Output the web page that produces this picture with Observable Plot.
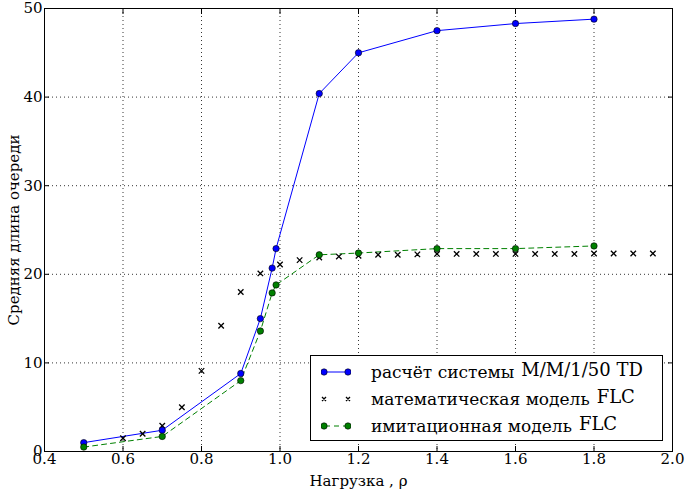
<!DOCTYPE html>
<html>
<head>
<meta charset="utf-8">
<script src="https://cdn.jsdelivr.net/npm/d3@7"></script>
<script src="https://cdn.jsdelivr.net/npm/@observablehq/plot@0.6"></script>
<style>
  body { margin: 0; background: #fff; }
  #wrap { position: relative; width: 686px; height: 489px; font-family: 'DejaVu Serif', serif; }
  #wrap svg text { font-family: 'DejaVu Serif', serif; }
  #legend { position: absolute; left: 310px; top: 355px; width: 351px; height: 84px; border: 1px solid #000; background: #fff; }
  .row { position: absolute; left: 0; height: 24px; display: flex; align-items: center; white-space: nowrap; }
  .row svg { margin-left: 10px; margin-right: 20px; }
  .ru { font-size: 17px; font-family: 'DejaVu Serif', serif; }
  .la { font-size: 18px; font-family: 'DejaVu Serif', serif; position: relative; top: -3px; margin-left: 7px; }
</style>
</head>
<body>
<div id="wrap"></div>
<script>
// Data
const xTD = [0.5, 0.7, 0.9, 0.95, 0.98, 0.99, 1.1, 1.2, 1.4, 1.6, 1.8];
const yTD = [1.0, 2.4, 8.8, 15.0, 20.7, 22.9, 40.4, 45.0, 47.5, 48.3, 48.8];

const xMath = [0.6, 0.65, 0.7, 0.75, 0.8, 0.85, 0.9, 0.95, 1.0, 1.05, 1.1, 1.15, 1.2, 1.25, 1.3, 1.35, 1.4, 1.45, 1.5, 1.55, 1.6, 1.65, 1.7, 1.75, 1.8, 1.85, 1.9, 1.95];
const yMath = [1.5, 2.0, 2.9, 5.0, 9.1, 14.2, 18.0, 20.1, 21.1, 21.6, 21.9, 22.0, 22.1, 22.2, 22.2, 22.25, 22.3, 22.3, 22.3, 22.3, 22.3, 22.3, 22.3, 22.3, 22.35, 22.35, 22.35, 22.35];

const xSim = [0.5, 0.7, 0.9, 0.95, 0.98, 0.99, 1.1, 1.2, 1.4, 1.6, 1.8];
const ySim = [0.5, 1.7, 8.0, 13.6, 17.9, 18.8, 22.2, 22.4, 22.9, 22.9, 23.2];

const xTicks = [0.4, 0.6, 0.8, 1.0, 1.2, 1.4, 1.6, 1.8, 2.0];
const yTicks = [0, 10, 20, 30, 40, 50];

const legendLabels = [
  ["расчёт системы", "M/M/1/50 TD"],
  ["математическая модель", "FLC"],
  ["имитационная модель", "FLC"]
];

const td = xTD.map((x, i) => ({x, y: yTD[i]}));
const mm = xMath.map((x, i) => ({x, y: yMath[i]}));
const sim = xSim.map((x, i) => ({x, y: ySim[i]}));

const blue = "#0000ff", green = "#008000";
const serif = "'DejaVu Serif', serif";

const chart = Plot.plot({
  width: 686,
  height: 489,
  marginLeft: 44,
  marginRight: 14,
  marginTop: 8,
  marginBottom: 38,
  style: {fontFamily: serif, fontSize: "15px", color: "#000", background: "#fff"},
  x: {domain: [0.4, 2.0]},
  y: {domain: [0, 50]},
  marks: [
    Plot.gridX(xTicks, {stroke: "#000", strokeOpacity: 1, strokeDasharray: "1,3", strokeWidth: 0.8}),
    Plot.gridY(yTicks, {stroke: "#000", strokeOpacity: 1, strokeDasharray: "1,3", strokeWidth: 0.8}),
    Plot.axisX(xTicks, {anchor: "bottom", tickSize: -5, tickPadding: 7, tickFormat: d3.format(".1f"), label: "Нагрузка , ρ", labelAnchor: "center", labelArrow: "none", labelOffset: 34, fontSize: 15}),
    Plot.axisX(xTicks, {anchor: "top", tickSize: -5, tickFormat: () => "", label: null}),
    Plot.axisY(yTicks, {anchor: "left", tickSize: -5, tickPadding: 7, label: "Средняя длина очереди", labelAnchor: "center", labelArrow: "none", labelOffset: 36, fontSize: 15}),
    Plot.axisY(yTicks, {anchor: "right", tickSize: -5, tickFormat: () => "", label: null}),
    Plot.line(td, {x: "x", y: "y", stroke: blue, strokeWidth: 1}),
    Plot.line(sim, {x: "x", y: "y", stroke: green, strokeWidth: 1, strokeDasharray: "5,4"}),
    Plot.dot(mm, {x: "x", y: "y", symbol: "times", stroke: "#000", strokeWidth: 1.3, r: 2.6}),
    Plot.dot(td, {x: "x", y: "y", fill: blue, stroke: "#000", strokeWidth: 0.6, r: 3.2}),
    Plot.dot(sim, {x: "x", y: "y", fill: green, stroke: "#000", strokeWidth: 0.6, r: 3.2}),
    Plot.frame({stroke: "#000", strokeWidth: 1})
  ]
});

const wrap = document.getElementById("wrap");
wrap.appendChild(chart);

// Legend overlay
const legend = document.createElement("div");
legend.id = "legend";
const samples = [
  `<svg width="30" height="10"><line x1="2" y1="5" x2="28" y2="5" stroke="${blue}" stroke-width="1"/><circle cx="3" cy="5" r="3.2" fill="${blue}" stroke="#000" stroke-width="0.6"/><circle cx="27" cy="5" r="3.2" fill="${blue}" stroke="#000" stroke-width="0.6"/></svg>`,
  `<svg width="30" height="10"><path d="M1,3L5,7M1,7L5,3M25,3L29,7M25,7L29,3" stroke="#000" stroke-width="1.3" fill="none"/></svg>`,
  `<svg width="30" height="10"><line x1="2" y1="5" x2="28" y2="5" stroke="${green}" stroke-width="1" stroke-dasharray="5,4" stroke-dashoffset="-2"/><circle cx="3" cy="5" r="3.2" fill="${green}" stroke="#000" stroke-width="0.6"/><circle cx="27" cy="5" r="3.2" fill="${green}" stroke="#000" stroke-width="0.6"/></svg>`
];
legendLabels.forEach((lab, i) => {
  const row = document.createElement("div");
  row.className = "row";
  row.style.top = (4 + i * 27) + "px";
  row.innerHTML = samples[i] + `<span class="ru">${lab[0]}</span><span class="la">${lab[1]}</span>`;
  legend.appendChild(row);
});
wrap.appendChild(legend);
</script>
</body>
</html>
